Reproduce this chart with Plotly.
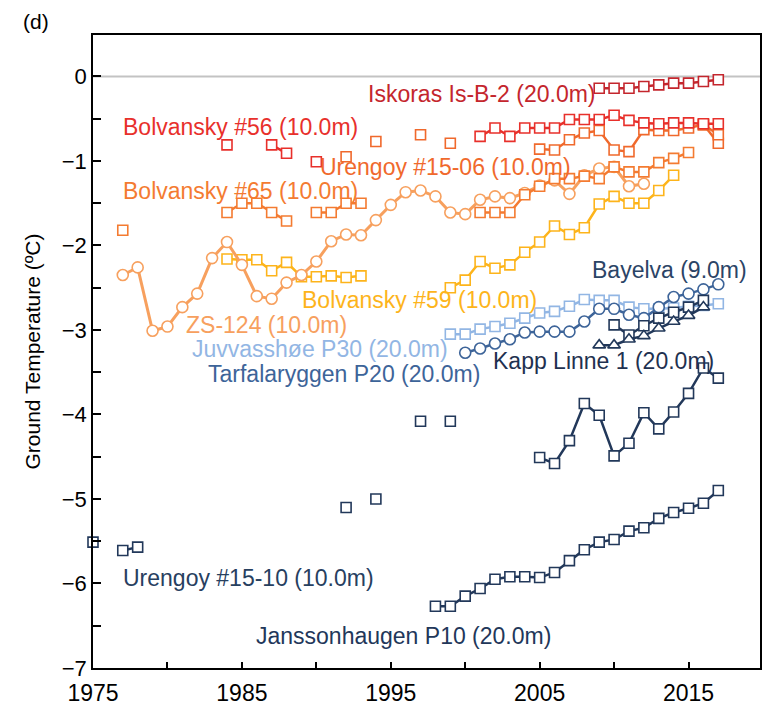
import plotly.graph_objects as go

# ---------------- data ----------------
iskoras_years = list(range(2009, 2018))
iskoras_vals = [-0.14, -0.14, -0.14, -0.12, -0.10, -0.08, -0.08, -0.06, -0.04]

bolv56_years = [1984, 1987, 1988, 1990] + list(range(2001, 2018))
bolv56_vals = [-0.81, -0.81, -0.91, -1.01,
               -0.71, -0.61, -0.71, -0.61, -0.61, -0.61, -0.51, -0.51, -0.51,
               -0.46, -0.52, -0.55, -0.56, -0.55, -0.55, -0.56, -0.56]

ur1506_years = [1992, 1994, 1997, 1999] + list(range(2005, 2018))
ur1506_vals = [-0.95, -0.77, -0.69, -0.79,
               -0.86, -0.87, -0.75, -0.67, -0.64, -0.87, -0.89, -0.63, -0.64,
               -0.64, -0.61, -0.57, -0.69]
ur1506_alt_years = [2016, 2017]
ur1506_alt_vals = [-0.57, -0.79]

bolv65_years = [1977, 1984, 1985, 1986, 1987, 1988, 1990, 1991, 1992, 1993] + list(range(2001, 2016))
bolv65_vals = [-1.82, -1.61, -1.50, -1.50, -1.61, -1.71, -1.61, -1.61, -1.50, -1.50,
               -1.61, -1.61, -1.61, -1.40, -1.30, -1.21, -1.21, -1.18, -1.21, -1.07,
               -1.13, -1.13, -1.02, -0.97, -0.90]

zs124_years = list(range(1977, 2013))
zs124_vals = [-2.35, -2.26, -3.01, -2.96, -2.73, -2.57, -2.15, -1.96, -2.23, -2.60,
              -2.63, -2.44, -2.35, -2.19, -1.95, -1.87, -1.88, -1.70, -1.52, -1.37,
              -1.35, -1.42, -1.61, -1.63, -1.46, -1.42, -1.44, -1.38, -1.29, -1.23,
              -1.39, -1.17, -1.09, -1.07, -1.30, -1.27]

bolv59_years = list(range(1984, 1994)) + list(range(1999, 2015))
bolv59_vals = [-2.16, -2.17, -2.17, -2.30, -2.20, -2.37, -2.37, -2.36, -2.38, -2.36,
               -2.50, -2.41, -2.19, -2.27, -2.23, -2.08, -1.96, -1.77, -1.87, -1.79,
               -1.51, -1.42, -1.50, -1.50, -1.35, -1.17]

juvv_years = list(range(1999, 2018))
juvv_vals = [-3.05, -3.05, -2.99, -2.96, -2.92, -2.86, -2.80, -2.78, -2.72, -2.64,
             -2.65, -2.65, -2.73, -2.75, -2.75, -2.74, -2.72, -2.71, -2.69]

tarf_years = list(range(2000, 2018))
tarf_vals = [-3.27, -3.22, -3.16, -3.11, -3.03, -3.02, -3.02, -3.02, -2.90, -2.75,
             -2.75, -2.82, -2.86, -2.73, -2.61, -2.57, -2.52, -2.46]

bayelva_years = list(range(2010, 2017))
bayelva_vals = [-2.94, -3.06, -2.95, -2.86, -2.79, -2.73, -2.65]

kapp_years = list(range(2009, 2017))
kapp_vals = [-3.18, -3.18, -3.11, -3.07, -2.98, -2.90, -2.83, -2.73]

ur1510_years = [1975, 1977, 1978, 1992, 1994, 1997, 1999] + list(range(2005, 2018))
ur1510_vals = [-5.51, -5.61, -5.57, -5.10, -5.00, -4.08, -4.08,
               -4.51, -4.58, -4.31, -3.87, -4.01, -4.49, -4.34, -3.98, -4.17,
               -3.97, -3.75, -3.45, -3.57]

jans_years = list(range(1998, 2018))
jans_vals = [-6.27, -6.27, -6.15, -6.06, -5.95, -5.92, -5.92, -5.93, -5.87, -5.73,
             -5.60, -5.51, -5.48, -5.38, -5.34, -5.23, -5.16, -5.11, -5.05, -4.90]

x_tick_labels = [1975, 1985, 1995, 2005, 2015]
y_tick_labels = [0, -1, -2, -3, -4, -5, -6, -7]

# ---------------- styles ----------------
C_ISK = "#c4262d"
C_B56 = "#e8302b"
C_U06 = "#f0692c"
C_B65 = "#f47b31"
C_ZS = "#f7a05e"
C_B59 = "#fdb41b"
C_JUV = "#92b6e4"
C_TAR = "#3d6499"
C_DARK = "#22385a"

FONT = "Liberation Sans, Arial, sans-serif"

series = [
    ("Urengoy #15-10 (10.0m)", ur1510_years, ur1510_vals, C_DARK, "square"),
    ("Janssonhaugen P10 (20.0m)", jans_years, jans_vals, C_DARK, "square"),
    ("Juvvasshøe P30 (20.0m)", juvv_years, juvv_vals, C_JUV, "square"),
    ("Tarfalaryggen P20 (20.0m)", tarf_years, tarf_vals, C_TAR, "circle"),
    ("Bayelva (9.0m)", bayelva_years, bayelva_vals, C_DARK, "square"),
    ("Kapp Linne 1 (20.0m)", kapp_years, kapp_vals, C_DARK, "triangle-up"),
    ("Bolvansky #59 (10.0m)", bolv59_years, bolv59_vals, C_B59, "square"),
    ("ZS-124 (10.0m)", zs124_years, zs124_vals, C_ZS, "circle"),
    ("Bolvansky #65 (10.0m)", bolv65_years, bolv65_vals, C_B65, "square"),
    ("Urengoy #15-06 (10.0m) b", ur1506_alt_years, ur1506_alt_vals, C_U06, "square"),
    ("Urengoy #15-06 (10.0m)", ur1506_years, ur1506_vals, C_U06, "square"),
    ("Bolvansky #56 (10.0m)", bolv56_years, bolv56_vals, C_B56, "square"),
    ("Iskoras Is-B-2 (20.0m)", iskoras_years, iskoras_vals, C_ISK, "square"),
]


def with_gaps(years, vals):
    xs, ys = [], []
    for i, (x, y) in enumerate(zip(years, vals)):
        if i > 0 and x - years[i - 1] > 1:
            xs.append(None)
            ys.append(None)
        xs.append(x)
        ys.append(y)
    return xs, ys


fig = go.Figure()
fig.add_hline(y=0, line=dict(color="#c3c3c3", width=2), layer="below")

for name, yrs, vals, col, sym in series:
    xs, ys = with_gaps(yrs, vals)
    size = 10 if sym == "square" else 11
    fig.add_trace(go.Scatter(
        x=xs, y=ys, name=name, mode="lines+markers", connectgaps=False,
        cliponaxis=False,
        line=dict(color=col, width=3 if col == C_ZS else 2.5),
        marker=dict(symbol=sym, size=size, color="white",
                    line=dict(color=col, width=1.6)),
        showlegend=False,
    ))

labels = [
    ("Iskoras Is-B-2 (20.0m)", 1993.35, -0.21, C_ISK),
    ("Bolvansky #56 (10.0m)", 1976.85, -0.60, C_B56),
    ("Urengoy #15-06 (10.0m)", 1990.1, -1.07, C_U06),
    ("Bolvansky #65 (10.0m)", 1976.85, -1.35, C_B65),
    ("Bolvansky #59 (10.0m)", 1988.9, -2.64, C_B59),
    ("ZS-124 (10.0m)", 1981.1, -2.94, C_ZS),
    ("Juvvasshøe P30 (20.0m)", 1981.5, -3.23, C_JUV),
    ("Tarfalaryggen P20 (20.0m)", 1982.6, -3.52, C_TAR),
    ("Bayelva (9.0m)", 2008.4, -2.29, "#2b4466"),
    ("Kapp Linne 1 (20.0m)", 2001.7, -3.37, "#1f3150"),
    ("Urengoy #15-10 (10.0m)", 1976.9, -5.93, "#27405f"),
    ("Janssonhaugen P10 (20.0m)", 1985.8, -6.62, "#22375a"),
]
for txt, x, y, col in labels:
    fig.add_annotation(x=x, y=y, text=txt, showarrow=False, xanchor="left",
                       yanchor="middle", font=dict(family=FONT, size=23, color=col))

fig.add_annotation(xref="paper", yref="paper", x=-0.085, y=1.021, text="(d)",
                   showarrow=False, xanchor="center", yanchor="middle",
                   font=dict(family=FONT, size=21, color="black"))

fig.update_layout(
    width=768, height=705,
    margin=dict(l=93, r=8, t=35, b=37, autoexpand=False),
    plot_bgcolor="white", paper_bgcolor="white",
    font=dict(family=FONT, size=20, color="black"),
)
fig.update_xaxes(
    range=[1975, 2019.8], tickvals=x_tick_labels, ticktext=[str(v) for v in x_tick_labels],
    ticks="inside", ticklen=6, tickwidth=1.5, tickcolor="black",
    minor=dict(ticks="inside", dtick=5, tick0=1975, ticklen=6, tickwidth=1.5, tickcolor="black"),
    showline=True, linecolor="black", linewidth=1.5, mirror=True,
    showgrid=False, zeroline=False, tickfont=dict(size=23, family=FONT),
    ticklabelstandoff=4, automargin=False,
)
fig.update_yaxes(
    range=[-7, 0.49], tickvals=y_tick_labels,
    ticks="inside", ticklen=8, tickwidth=1.5, tickcolor="black",
    minor=dict(ticks="inside", dtick=0.5, tick0=0, ticklen=8, tickwidth=1.5, tickcolor="black"),
    showline=True, linecolor="black", linewidth=1.5, mirror=True,
    showgrid=False, zeroline=False, tickfont=dict(size=22, family=FONT),
    automargin=False,
    title=dict(text="Ground Temperature (ºC)", font=dict(size=21, family=FONT), standoff=15),
)

fig.write_html("out.html")
